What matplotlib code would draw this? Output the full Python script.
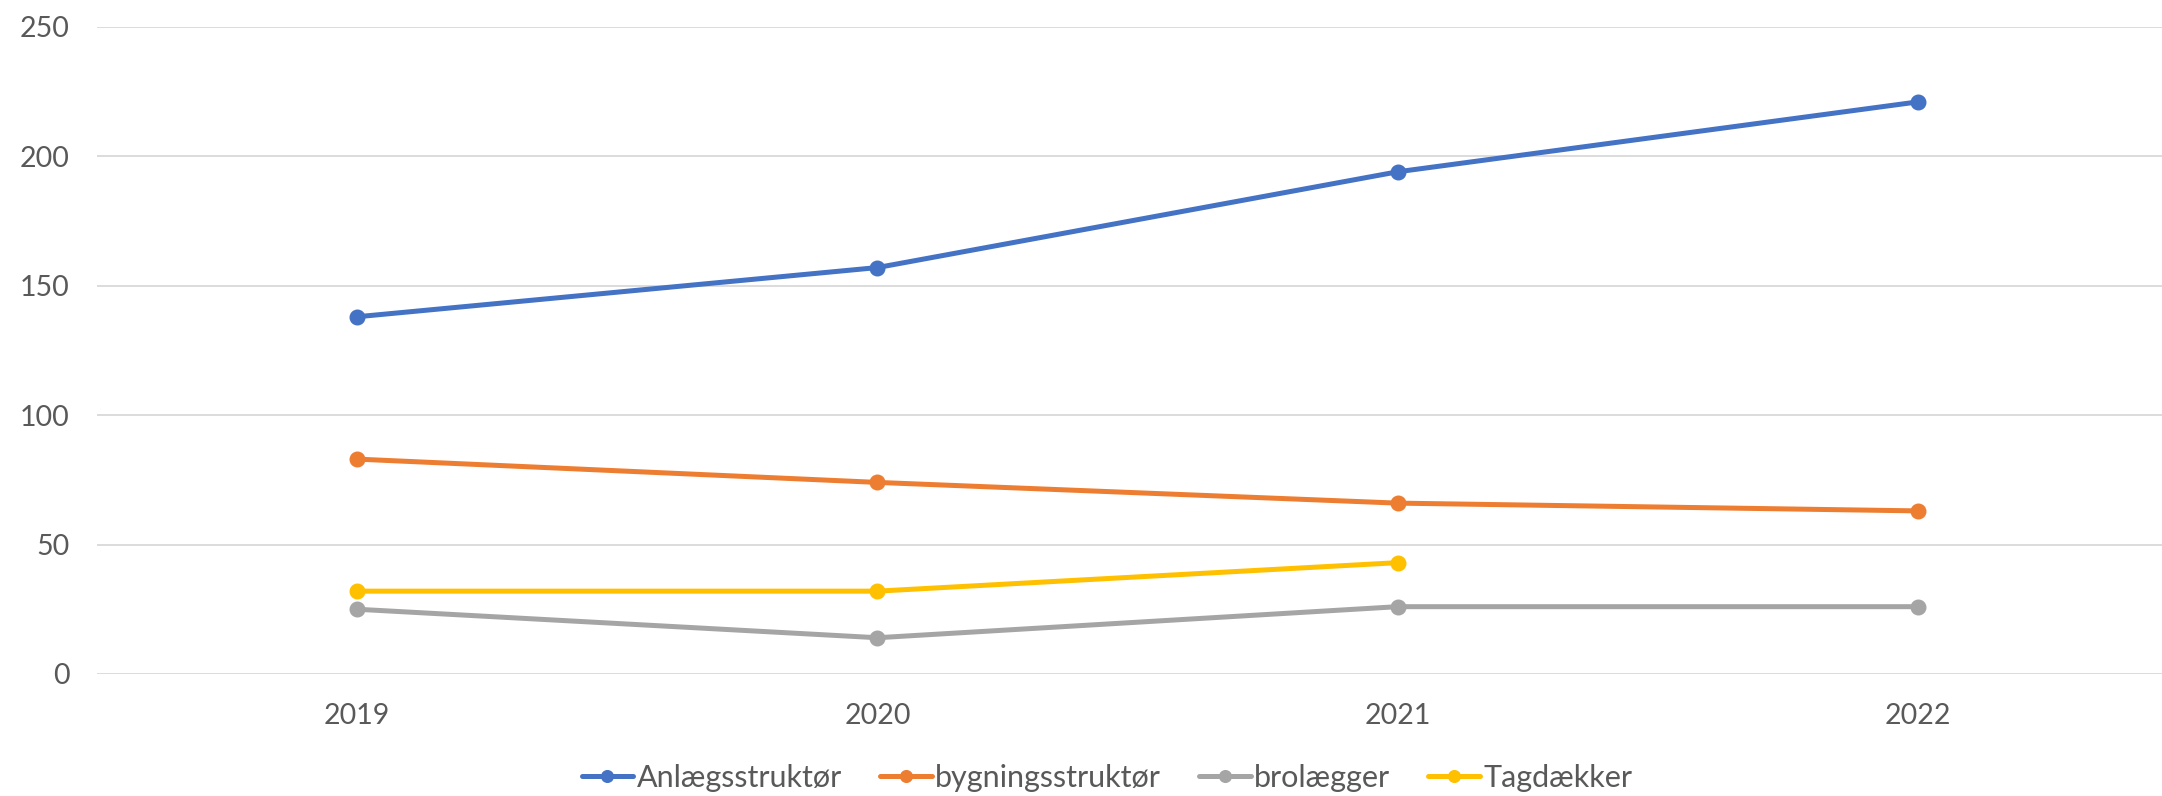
import numpy as np
import matplotlib.pyplot as plt

plt.rcParams['font.family'] = ['Lato', 'DejaVu Sans']

years = ['2019', '2020', '2021', '2022']
anlaeg = [138, 157, 194, 221]
bygning = [83, 74, 66, 63]
brolaegger = [25, 14, 26, 26]
tagdaekker = [32, 32, 43, np.nan]

series = [
    ('Anlægsstruktør', anlaeg, '#4472C4'),
    ('bygningsstruktør', bygning, '#ED7D31'),
    ('brolægger', brolaegger, '#A5A5A5'),
    ('Tagdækker', tagdaekker, '#FFC000'),
]

fig = plt.figure(figsize=(21.62, 7.96), dpi=100)
# the plot area runs a bit past the right edge in the original
ax = fig.add_axes([0.0449, 0.1533, 0.9625, 0.813])

x = np.arange(len(years))
for name, vals, col in series:
    ax.plot(x, vals, color=col, lw=3.6, marker='o', ms=10.5, label=name,
            solid_capstyle='round')

ax.set_xlim(-0.5, 3.5)
ax.set_ylim(0, 250)
ax.set_yticks(np.arange(0, 251, 50))
ax.set_xticks(x)
ax.set_xticklabels(years)
ax.grid(axis='y', color='#D9D9D9', lw=1.3)
ax.set_axisbelow(True)
for s in ax.spines.values():
    s.set_visible(False)
ax.tick_params(axis='both', length=0, labelsize=20.5, colors='#595959')
ax.tick_params(axis='y', pad=20)
ax.tick_params(axis='x', pad=21)

leg = fig.legend(loc='center', bbox_to_anchor=(0.512, 0.023), ncol=4,
                 frameon=False, fontsize=22, handlelength=1.7,
                 handletextpad=0.1, columnspacing=1.25, markerscale=0.8)
for t in leg.get_texts():
    t.set_color('#595959')

fig.savefig('out.png', dpi=100)
